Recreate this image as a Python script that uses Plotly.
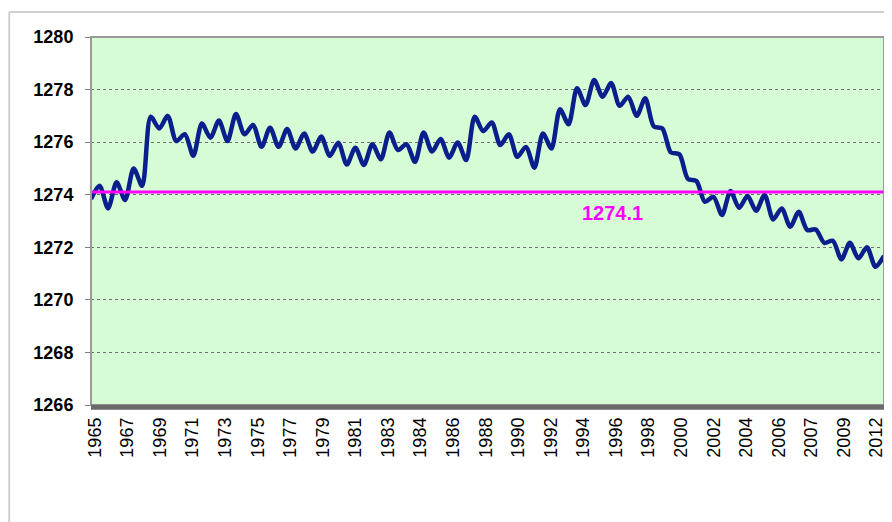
import numpy as np
import plotly.graph_objects as go

# Water level series (evenly spaced observations, alternating high/low season)
levels = [
    1273.84, 1274.34, 1273.48, 1274.47, 1273.80, 1275.00, 1274.34, 1276.97, 1276.52, 1277.00,
    1276.04, 1276.30, 1275.48, 1276.71, 1276.17, 1276.82, 1276.04, 1277.07, 1276.30, 1276.65,
    1275.82, 1276.55, 1275.82, 1276.50, 1275.76, 1276.33, 1275.64, 1276.21, 1275.48, 1275.98,
    1275.15, 1275.79, 1275.13, 1275.92, 1275.35, 1276.37, 1275.70, 1275.92, 1275.25, 1276.37,
    1275.64, 1276.12, 1275.41, 1275.99, 1275.32, 1276.97, 1276.42, 1276.75, 1275.89, 1276.30,
    1275.44, 1275.82, 1275.03, 1276.33, 1275.76, 1277.25, 1276.68, 1278.05, 1277.41, 1278.36,
    1277.73, 1278.25, 1277.38, 1277.73, 1277.00, 1277.67, 1276.60, 1276.52, 1275.61, 1275.54,
    1274.60, 1274.52, 1273.73, 1273.92, 1273.23, 1274.14, 1273.50, 1273.95, 1273.39, 1273.99,
    1273.06, 1273.48, 1272.78, 1273.35, 1272.66, 1272.68, 1272.17, 1272.25, 1271.54, 1272.17,
    1271.58, 1272.00, 1271.26, 1271.67,
]
average_level = 1274.1
year_labels = ["1965", "1967", "1969", "1971", "1973", "1975", "1977", "1979", "1981",
               "1983", "1984", "1986", "1988", "1990", "1992", "1994", "1996", "1998",
               "2000", "2002", "2004", "2006", "2007", "2009", "2012"]
y_ticks = [1266, 1268, 1270, 1272, 1274, 1276, 1278, 1280]

n = len(levels)
x = np.arange(n)
label_pos = 0.45 + 3.82 * np.arange(len(year_labels))

FONT = "Arial, Liberation Sans, sans-serif"

fig = go.Figure()
fig.add_trace(go.Scatter(
    x=x, y=levels, mode="lines",
    line=dict(color="#0a1e8c", width=4.5, shape="spline", smoothing=0.8),
    showlegend=False, hoverinfo="skip",
))
fig.add_trace(go.Scatter(
    x=[0, n - 1], y=[average_level, average_level], mode="lines",
    line=dict(color="#ff00ff", width=3),
    showlegend=False, hoverinfo="skip",
))

fig.update_layout(
    width=884, height=514,
    margin=dict(l=83, r=6, t=29, b=117),
    paper_bgcolor="white",
    plot_bgcolor="#d5fcd5",
    font=dict(family=FONT, color="black"),
    xaxis=dict(
        range=[0, n - 1], tickmode="array", tickvals=label_pos, ticktext=year_labels,
        tickangle=-90, tickfont=dict(size=18, family=FONT, color="black"),
        showgrid=False, zeroline=False, showline=False, ticks="",
        ticklabelstandoff=8,
    ),
    yaxis=dict(
        range=[1266, 1280], tickmode="array", tickvals=y_ticks,
        tickfont=dict(size=18, family=FONT, color="black", weight="bold"),
        showgrid=True, gridcolor="#6f6f6f", griddash="dot", gridwidth=1,
        zeroline=False, showline=False, ticks="outside", ticklen=5,
        tickcolor="#808080", tickwidth=1, ticklabelstandoff=8,
    ),
    shapes=[
        # outer chart frame (top and left edges)
        dict(type="line", xref="paper", yref="paper", x0=-0.1031, x1=1.02, y0=1.068, y1=1.068,
             line=dict(color="#cfcfcf", width=2)),
        dict(type="line", xref="paper", yref="paper", x0=-0.1031, x1=-0.1031, y0=1.068, y1=-0.35,
             line=dict(color="#cfcfcf", width=2)),
        # plot area border
        dict(type="rect", xref="paper", yref="paper", x0=0, x1=1, y0=0, y1=1,
             line=dict(color="#9a9a9a", width=2)),
        dict(type="line", xref="paper", yref="paper", x0=0, x1=1, y0=-0.006, y1=-0.006,
             line=dict(color="#6a6a6a", width=5)),
    ],
    annotations=[
        dict(xref="paper", yref="y", x=0.658, y=1273.3, text=f"<b>{average_level}</b>",
             showarrow=False, font=dict(size=20, color="#ff00ff", family=FONT)),
    ],
)

fig.write_html("out.html")
